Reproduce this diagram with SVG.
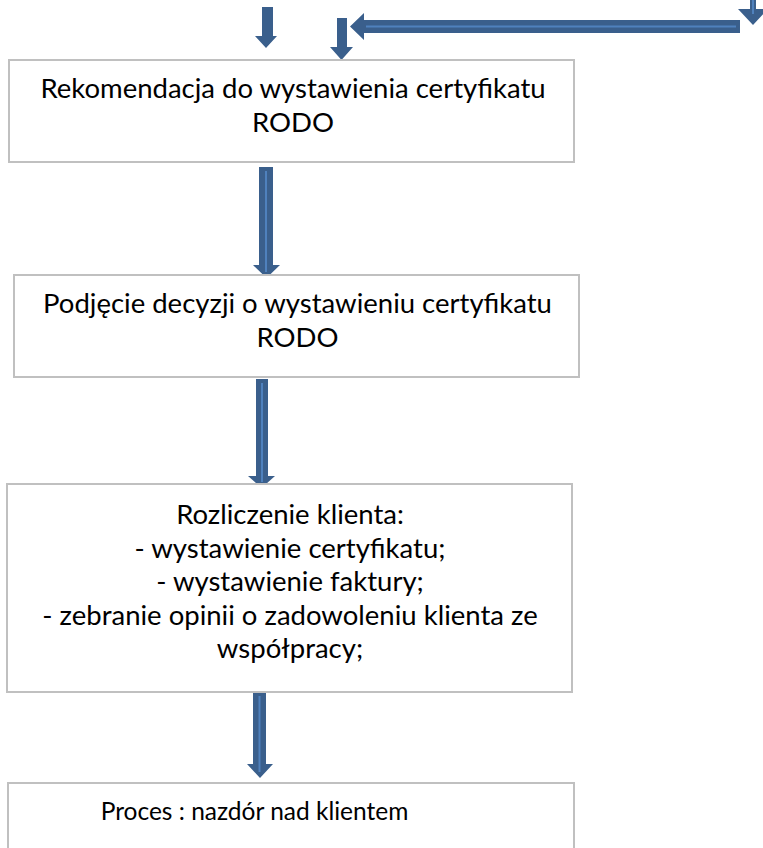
<svg xmlns="http://www.w3.org/2000/svg" width="763" height="848" viewBox="0 0 763 848">
<style>
.box{fill:#fff;stroke:#c0c0c0;stroke-width:2}
.t{font-family:Lato,"Liberation Sans",sans-serif;font-size:27.5px;fill:#000;text-anchor:middle}
.t4{font-size:24.5px}
.arr{fill:#3a5f8c}
.hl{stroke:#4f81bd;stroke-width:2;fill:none}
</style>
<rect width="763" height="848" fill="#fff"/>
<g id="connectors">
<path class="arr" d="M262,7H273V36H277L266,48L255,36H262Z"/>
<path class="arr" d="M337,18H347V47H353L341.5,60L330,47H337Z"/>
<path class="arr" d="M350,26.5L364,13V20H740V33H364V40Z"/>
<line class="hl" x1="366" y1="26.5" x2="736" y2="26.5"/>
<path class="arr" d="M750,0H756V9H768L753,25L738,9H750Z"/>
<line class="hl" x1="753" y1="0" x2="753" y2="14"/>
<path class="arr" d="M259,167H273V265H280L266.5,278L253,265H259Z"/>
<line class="hl" x1="266" y1="171" x2="266" y2="272"/>
<path class="arr" d="M256,379H268V476H275L261.5,488L248,476H256Z"/>
<line class="hl" x1="262" y1="383" x2="262" y2="482"/>
<path class="arr" d="M253,692H266V764H273L260,778L247,764H253Z"/>
<line class="hl" x1="259.5" y1="696" x2="259.5" y2="772"/>
</g>
<g id="node1">
<rect class="box" x="9" y="60" width="565" height="102"/>
<text class="t" x="293" y="98">Rekomendacja do wystawienia certyfikatu</text>
<text class="t" x="293" y="132">RODO</text>
</g>
<g id="node2">
<rect class="box" x="14" y="275" width="565" height="102"/>
<text class="t" x="297.5" y="313">Podjęcie decyzji o wystawieniu certyfikatu</text>
<text class="t" x="297.5" y="347">RODO</text>
</g>
<g id="node3">
<rect class="box" x="7" y="484" width="565" height="208"/>
<text class="t" x="290" y="524">Rozliczenie klienta:</text>
<text class="t" x="290" y="558">- wystawienie certyfikatu;</text>
<text class="t" x="290" y="591">- wystawienie faktury;</text>
<text class="t" x="290" y="625">- zebranie opinii o zadowoleniu klienta ze</text>
<text class="t" x="290" y="658">współpracy;</text>
</g>
<g id="node4">
<rect class="box" x="8" y="783" width="566" height="80"/>
<text class="t t4" x="254.5" y="820">Proces : nazdór nad klientem</text>
</g>
</svg>
